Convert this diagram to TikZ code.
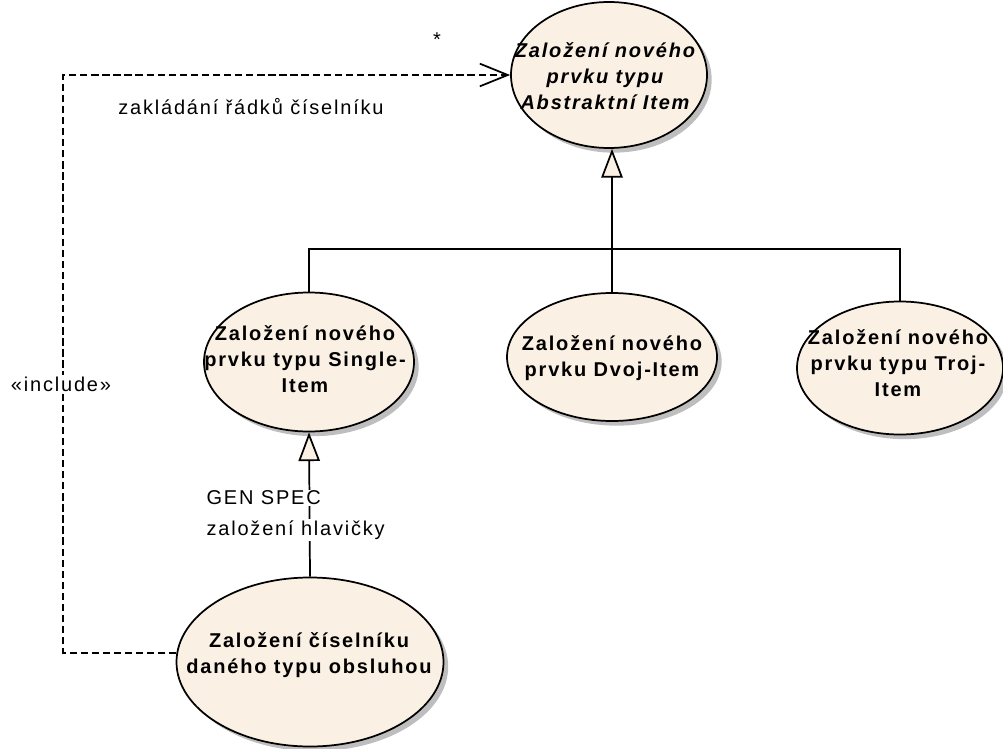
\documentclass[tikz,border=0pt]{standalone}
\usepackage{fontspec}
\setmainfont{Liberation Sans}
\newfontfamily\ucfont[LetterSpace=9]{Liberation Sans}
\usetikzlibrary{shapes.geometric,arrows.meta,shadows}
\definecolor{ucfill}{RGB}{250,240,227}
\definecolor{ucshadow}{RGB}{190,190,190}

\begin{document}
\begin{tikzpicture}[x=0.75pt,y=-0.75pt,
  usecase/.style={ellipse, draw=black, line width=1.3pt, fill=ucfill, inner sep=0pt,
    drop shadow={shadow xshift=3.5pt, shadow yshift=-3.5pt, fill=ucshadow, opacity=1}},
  uctext/.style={align=center, inner sep=0pt,
    font=\ucfont\fontsize{15pt}{19.5pt}\selectfont\bfseries},
  lbl/.style={inner sep=1pt, font=\ucfont\fontsize{15pt}{19.5pt}\selectfont},
  conn/.style={line width=1.3pt},
  dep/.style={conn, dash pattern=on 5.5pt off 2.8pt,
    -{Straight Barb[length=21pt,width=17pt]}},
  gen/.style={conn, -{Triangle[fill=ucfill, length=21.5pt, width=16pt]}}
]
\useasboundingbox (0,0) rectangle (1003,749);

% use cases
\node[usecase, minimum width=147pt, minimum height=109.5pt] (top) at (609,75) {};
\node[usecase, minimum width=157.5pt, minimum height=104.25pt] (single) at (309,362) {};
\node[usecase, minimum width=157.5pt, minimum height=96pt] (dvoj) at (612,357) {};
\node[usecase, minimum width=154.5pt, minimum height=99.75pt] (troj) at (900,368) {};
\node[usecase, minimum width=200.25pt, minimum height=126.75pt] (bottom) at (310,662) {};

% use case names
\node[uctext, font=\ucfont\fontsize{15pt}{19.5pt}\selectfont\bfseries\itshape] (top-t) at (605,76)
  {Založení nového\\prvku typu\\Abstraktní Item};
\node[uctext] (single-t) at (305,359) {Založení nového\\prvku typu Single-\\Item};
\node[uctext] (dvoj-t) at (612,358) {Založení nového\\prvku Dvoj-Item};
\node[uctext] (troj-t) at (898,363) {Založení nového\\prvku typu Troj-\\Item};
\node[uctext] (bottom-t) at (309,655) {Založení číselníku\\daného typu obsluhou};

% generalization tree
\coordinate (bar) at (612,249);
\draw[conn] (single.north) |- (bar) -| (troj.north);
\draw[conn] (dvoj.north) -- (bar);
\draw[gen] (bar) -- (bar |- top.south);
\draw[gen] (bottom.north) -- (single.south);

% include dependency
\coordinate (inc) at (63,75);
\draw[dep] (bottom.176) -| (inc) -- (top.west);

% labels
\node[lbl] (mult) at (437,40) {*};
\node[lbl] (dep-name) at (251,107) {zakládání řádků číselníku};
\node[lbl, fill=white] (inc-lbl) at (61,384) {«include»};
\node[lbl, fill=white, anchor=west] (gen-lbl) at (205,498) {GEN SPEC};
\node[lbl, fill=white, anchor=west] (gen-name) at (205,530) {založení hlavičky};
\end{tikzpicture}
\end{document}
